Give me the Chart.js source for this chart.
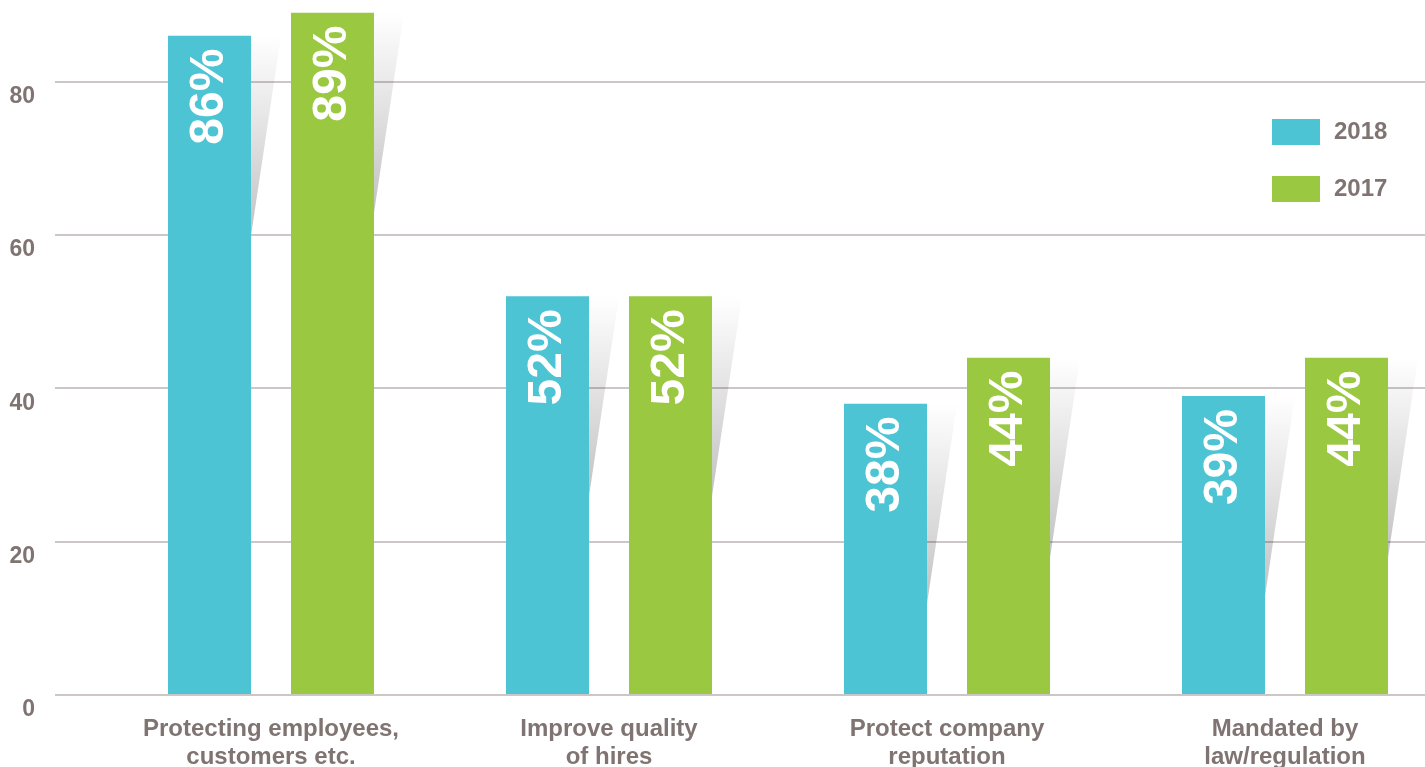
<!DOCTYPE html>
<html>
<head>
<meta charset="utf-8">
<script src="https://cdn.jsdelivr.net/npm/chart.js@4/dist/chart.umd.min.js"></script>
<style>
    html, body { margin: 0; padding: 0; background: #fff; overflow: hidden; }
    #wrap { position: absolute; left: 0; top: 0; width: 1454px; height: 767px; }
</style>
</head>
<body>
<div id="wrap"><canvas id="reasonsChart"></canvas></div>
<script>
// --- Data ---
const categories = [
    ['Protecting employees,', 'customers etc.'],
    ['Improve quality', 'of hires'],
    ['Protect company', 'reputation'],
    ['Mandated by', 'law/regulation']
];
const seriesNames = ['2018', '2017'];
const values2018 = [86, 52, 38, 39];
const values2017 = [89, 52, 44, 44];
const yTicks = [0, 20, 40, 60, 80];

const BLUE = '#4cc4d4';
const GREEN = '#9ac841';
const TEXT = '#7f7471';
const GRID = '#ccc6c6';
const FONT = "'Liberation Sans', Arial, sans-serif";

// --- Plugins ---
// gray slanted shadow to the right of each bar
const barShadow = {
    id: 'barShadow',
    beforeDatasetsDraw(chart) {
        const ctx = chart.ctx;
        chart.data.datasets.forEach((ds, i) => {
            chart.getDatasetMeta(i).data.forEach(bar => {
                const right = bar.x + bar.width / 2;
                const top = bar.y;
                const g = ctx.createLinearGradient(0, top, 0, top + 200);
                g.addColorStop(0, 'rgba(0,0,0,0)');
                g.addColorStop(1, 'rgba(0,0,0,0.24)');
                ctx.save();
                ctx.beginPath();
                ctx.moveTo(right, top);
                ctx.lineTo(right + 30, top);
                ctx.lineTo(right, top + 200);
                ctx.closePath();
                ctx.fillStyle = g;
                ctx.fill();
                ctx.restore();
            });
        });
    }
};

// rotated white percentage inside the bars
const barValues = {
    id: 'barValues',
    afterDatasetsDraw(chart) {
        const ctx = chart.ctx;
        chart.data.datasets.forEach((ds, i) => {
            chart.getDatasetMeta(i).data.forEach((bar, j) => {
                ctx.save();
                ctx.translate(bar.x + 13, bar.y + 13);
                ctx.rotate(-Math.PI / 2);
                ctx.font = 'bold 48px ' + FONT;
                ctx.fillStyle = '#ffffff';
                ctx.textAlign = 'right';
                ctx.textBaseline = 'alphabetic';
                ctx.fillText(ds.data[j] + '%', 0, 0);
                ctx.restore();
            });
        });
    }
};

// legend boxes at the right
const sideLegend = {
    id: 'sideLegend',
    afterDraw(chart) {
        const ctx = chart.ctx;
        chart.data.datasets.forEach((ds, i) => {
            const y = 119 + i * 57;
            ctx.save();
            ctx.fillStyle = ds.backgroundColor;
            ctx.fillRect(1272, y, 48, 26);
            ctx.font = 'bold 24px ' + FONT;
            ctx.fillStyle = TEXT;
            ctx.textAlign = 'left';
            ctx.textBaseline = 'middle';
            ctx.fillText(ds.label, 1334, y + 13);
            ctx.restore();
        });
    }
};

// --- Chart ---
const ctx = document.getElementById('reasonsChart').getContext('2d');

new Chart(ctx, {
    type: 'bar',
    data: {
        labels: categories,
        datasets: [
            { label: seriesNames[0], data: values2018, backgroundColor: BLUE },
            { label: seriesNames[1], data: values2017, backgroundColor: GREEN }
        ]
    },
    options: {
        responsive: true,
        maintainAspectRatio: false,
        animation: false,
        categoryPercentage: 246 / 338,
        barPercentage: 83 / 123,
        layout: { padding: { top: 5, right: 0, left: 0, bottom: 0 } },
        plugins: { legend: { display: false }, tooltip: { enabled: false } },
        scales: {
            x: {
                grid: { display: false },
                border: { display: false },
                ticks: {
                    color: TEXT,
                    font: { family: FONT, size: 24, weight: 'bold', lineHeight: 1.15 },
                    padding: 13,
                    maxRotation: 0,
                    autoSkip: false
                },
                afterFit: scale => {
                    scale.height = 72;
                    scale.paddingLeft = 0;
                    scale.paddingRight = 0;
                }
            },
            y: {
                min: 0,
                max: 90,
                border: { display: false },
                grid: {
                    color: GRID,
                    lineWidth: 2,
                    drawTicks: true,
                    tickLength: 47,
                    tickColor: GRID
                },
                ticks: {
                    stepSize: 20,
                    includeBounds: false,
                    color: TEXT,
                    font: { family: FONT, size: 23, weight: 'bold' },
                    padding: 20,
                    labelOffset: 15
                },
                afterBuildTicks: scale => {
                    scale.ticks = yTicks.map(v => ({ value: v }));
                },
                afterFit: scale => {
                    scale.width = 102;
                    scale.paddingTop = 0;
                    scale.paddingBottom = 0;
                }
            }
        }
    },
    plugins: [barShadow, barValues, sideLegend]
});
</script>
</body>
</html>
